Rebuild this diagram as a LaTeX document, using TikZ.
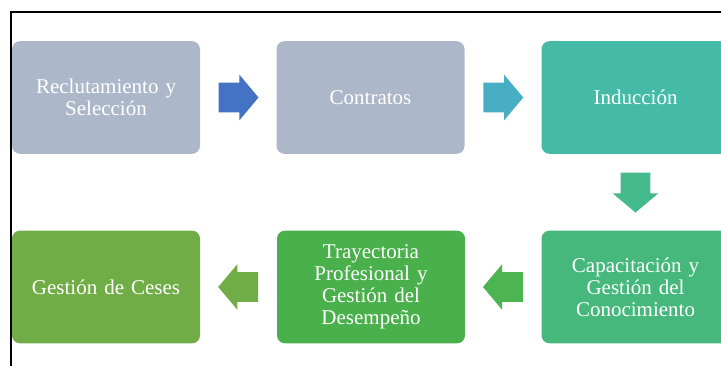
\documentclass[tikz,border=0pt]{standalone}
\usepackage{fontspec}
\setmainfont{Liberation Serif}
\usetikzlibrary{shapes.arrows,calc}

\definecolor{slate}{HTML}{ADB7CA}
\definecolor{blueArrow}{HTML}{4472C4}
\definecolor{tealArrow}{HTML}{47AEC3}
\definecolor{teal}{HTML}{45BBA7}
\definecolor{seaArrow}{HTML}{44BA8C}
\definecolor{sea}{HTML}{46B87B}
\definecolor{grassArrow}{HTML}{4CB450}
\definecolor{grass}{HTML}{49B04B}
\definecolor{olive}{HTML}{70AD47}

\tikzset{
  stage/.style={draw=none, rounded corners=6pt, minimum width=141pt, minimum height=84.5pt,
    text width=130pt, align=center, text=white,
    font=\fontsize{15.75}{16.5}\selectfont},
  flow/.style={single arrow, draw=none, inner sep=0pt, inner ysep=11pt,
    single arrow head extend=6pt, single arrow tip angle=100, minimum height=30pt,
    anchor=tail}
}

\begin{document}
\begin{tikzpicture}[x=0.75pt,y=-0.75pt]
  \useasboundingbox (0,0) rectangle (721,365);
  \clip (0,0) rectangle (721,365);

  % outer frame
  \draw[line width=1.1pt] (11,366) -- (11,12) -- (722,12);

  % process stages
  \node[stage, fill=slate] (recl) at (106,97.5) {Reclutamiento y\\Selección};
  \node[stage, fill=slate] (cont) at (370.5,97.5) {Contratos};
  \node[stage, fill=teal] (indu) at (635.5,97.5) {Inducción};
  \node[stage, fill=sea] (capa) at (635.5,287) {Capacitación y\\Gestión del\\Conocimiento};
  \node[stage, fill=grass] (tray) at (371,287) {Trayectoria\\Profesional y\\Gestión del\\Desempeño};
  \node[stage, fill=olive] (cese) at (106,287) {Gestión de Ceses};

  % block arrows between stages, placed by their tails
  \node[flow, fill=blueArrow] (a1) at ($(recl.east)!0.5!(cont.west)+(-20,0)$) {};
  \node[flow, fill=tealArrow] (a2) at ($(cont.east)!0.5!(indu.west)+(-20,0)$) {};
  \node[flow, fill=seaArrow, rotate=-90] (a3) at ($(indu.south)!0.5!(capa.north)+(0,-20)$) {};
  \node[flow, fill=grassArrow, rotate=180] (a4) at ($(capa.west)!0.5!(tray.east)+(20,0)$) {};
  \node[flow, fill=olive, rotate=180] (a5) at ($(tray.west)!0.5!(cese.east)+(20,0)$) {};
\end{tikzpicture}
\end{document}
